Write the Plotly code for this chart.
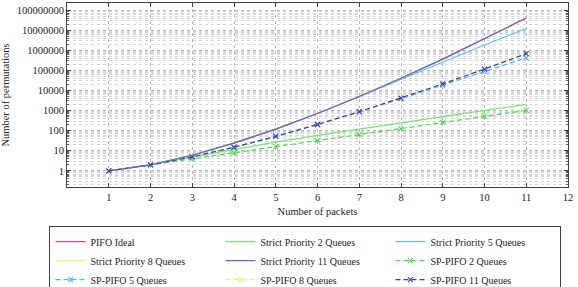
import plotly.graph_objects as go

packets = [1, 2, 3, 4, 5, 6, 7, 8, 9, 10, 11]

pifo_ideal = [1, 2, 6, 24, 120, 720, 5040, 40320, 362880, 3628800, 39916800]
sp_2 = [1, 2, 5, 12, 27, 58, 121, 248, 503, 1014, 2037]
sp_5 = [1, 2, 6, 24, 120, 719, 4919, 35779, 259535, 1814400, 12096276]
sp_8 = [1, 2, 6, 24, 120, 720, 5040, 40320, 362879, 3627786, 39762126]
sp_11 = [1, 2, 6, 24, 120, 720, 5040, 40320, 362880, 3628800, 39916800]
sppifo_2 = [1, 2, 4, 8, 16, 32, 64, 128, 256, 512, 1024]
sppifo_5 = [1, 2, 5, 15, 52, 202, 855, 3845, 18002, 86472, 422005]
sppifo_8 = [1, 2, 5, 15, 52, 203, 877, 4140, 21146, 115929, 677359]
sppifo_11 = [1, 2, 5, 15, 52, 203, 877, 4140, 21147, 115975, 678570]

ytick_vals = [1, 10, 100, 1000, 10000, 100000, 1000000, 10000000, 100000000]
ytick_text = ["1", "10", "100", "1000", "10000", "100000", "1000000", "10000000", "100000000"]
xtick_vals = [1, 2, 3, 4, 5, 6, 7, 8, 9, 10, 11, 12]

FONT = "Liberation Serif"

series = [
    ("PIFO Ideal", pifo_ideal, "#e8448c", "solid", False, 1.0),
    ("Strict Priority 2 Queues", sp_2, "#70e870", "solid", False, 1.0),
    ("Strict Priority 5 Queues", sp_5, "#5cc8ea", "solid", False, 1.0),
    ("Strict Priority 8 Queues", sp_8, "#f0f07a", "solid", False, 1.0),
    ("Strict Priority 11 Queues", sp_11, "#4a4acc", "solid", False, 0.85),
    ("SP-PIFO 2 Queues", sppifo_2, "#48dc48", "dash", True, 1.0),
    ("SP-PIFO 5 Queues", sppifo_5, "#40bce8", "dash", True, 1.0),
    ("SP-PIFO 8 Queues", sppifo_8, "#f0f060", "dash", True, 1.0),
    ("SP-PIFO 11 Queues", sppifo_11, "#3a3ac8", "dash", True, 1.0),
]

fig = go.Figure()
for name, vals, color, dash, marker, op in series:
    fig.add_trace(go.Scatter(
        x=packets, y=vals, name=name,
        mode="lines+markers" if marker else "lines",
        line=dict(color=color, width=1.2, dash="5px,3px" if dash == "dash" else "solid"),
        marker=dict(symbol="x-thin", size=5, line=dict(color=color, width=1.1)),
        opacity=op,
    ))

axis_common = dict(
    showline=True, linecolor="#404040", linewidth=1, mirror="ticks",
    ticks="inside", tickcolor="#404040", ticklen=4,
    showgrid=True, gridcolor="#b8b8b8", griddash="dot", gridwidth=1,
    zeroline=False,
    tickfont=dict(family=FONT, size=10.5, color="#222"),
)

fig.update_xaxes(
    range=[0, 12], tickvals=xtick_vals,
    title=dict(text="Number of packets", font=dict(family=FONT, size=10.5, color="#222"), standoff=6),
    **axis_common,
)
fig.update_yaxes(
    type="log", range=[-0.8, 8.35], tickvals=ytick_vals, ticktext=ytick_text,
    title=dict(text="Number of permutations", font=dict(family=FONT, size=10.5, color="#222"), standoff=4),
    minor=dict(dtick="D1", ticks="inside", ticklen=2, tickcolor="#606060",
               showgrid=True, gridcolor="#d8d8d8", griddash="dot", gridwidth=1),
    **axis_common,
)

fig.update_layout(
    width=578, height=287,
    margin=dict(l=67, r=10, t=3, b=100, autoexpand=False),
    paper_bgcolor="white", plot_bgcolor="white",
    showlegend=True,
    legend=dict(
        orientation="h", x=-0.035, xanchor="left", y=-0.213, yanchor="top",
        entrywidth=125, entrywidthmode="pixels",
        bordercolor="#404040", borderwidth=1, bgcolor="white",
        font=dict(family=FONT, size=10, color="#222"),
        tracegroupgap=0, itemwidth=30,
    ),
)

fig.write_html("out.html")
